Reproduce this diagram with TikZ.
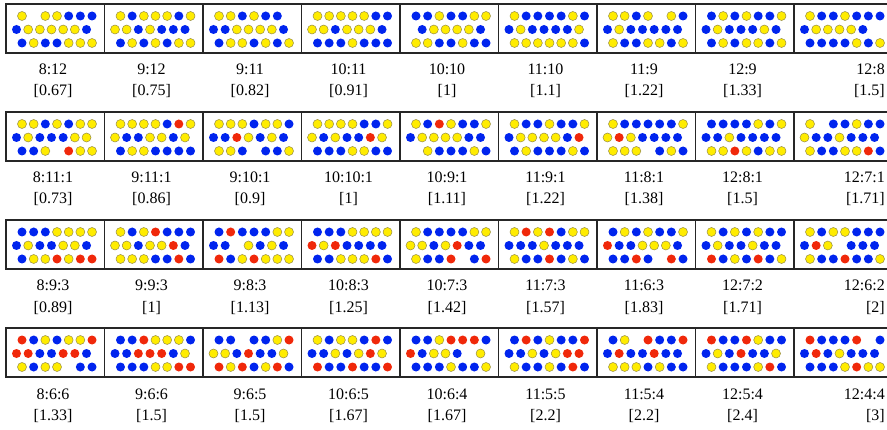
\documentclass[tikz,border=0pt]{standalone}
\usepackage{fontspec}
\setmainfont{Liberation Serif}
\usetikzlibrary{positioning}

\definecolor{dotblue}{RGB}{0,36,238}
\definecolor{dotred}{RGB}{240,40,10}
\definecolor{dotyellow}{RGB}{255,236,0}
\definecolor{dotyelline}{RGB}{150,140,70}

% one box of dots: name, column, row, three rows of slots, ratio, value
\newcommand{\dotpanel}[8]{%
    \pgfmathsetmacro\pl{6+98.5*#2}%
    \pgfmathsetmacro\pt{425-108*#3}%
    \node [panel] (#1) at (\pl+49.25,\pt-24.5) {};
    \foreach \c [count=\k from 0] in {#4} {\path [dot\c] (\pl+16+11.67*\k,\pt-12) circle [radius=4.5pt];}
    \foreach \c [count=\k from 0] in {#5} {\path [dot\c] (\pl+10.5+11.67*\k,\pt-25.5) circle [radius=4.5pt];}
    \foreach \c [count=\k from 0] in {#6} {\path [dot\c] (\pl+16+11.67*\k,\pt-39) circle [radius=4.5pt];}
    \ifnum#2=8
        \node [ratiotext, anchor=base east] (#1a) at (885,\pt-71) {#7};
        \node [ratiotext, anchor=base east] (#1b) at (885,\pt-92) {#8};
    \else
        \node [ratiotext, anchor=base] (#1a) at (\pl+47,\pt-71) {#7};
        \node [ratiotext, anchor=base] (#1b) at (\pl+47,\pt-92) {#8};
    \fi
}

\begin{document}
\begin{tikzpicture}[
    x=1pt,
    y=1pt,
    panel/.style={
        rectangle,
        draw=black!85,
        line width=1.1pt,
        minimum width=98.5pt,
        minimum height=49pt,
        inner sep=0pt
    },
    doty/.style={fill=dotyellow, draw=dotyelline, line width=0.5pt},
    dotb/.style={fill=dotblue},
    dotr/.style={fill=dotred},
    dotn/.style={},
    ratiotext/.style={
        inner sep=0pt,
        font=\fontsize{16}{19}\selectfont
    }
]
    \useasboundingbox (0,0) rectangle (887,429);
    \clip (0,0) rectangle (887,429);

    % --- Row 1: blue:yellow ---
    \dotpanel{p1}{0}{0}{y,n,y,y,b,b,b}{b,y,y,y,y,y,b}{b,y,b,b,y,y,y}{8:12}{[0.67]}
    \dotpanel{p2}{1}{0}{y,b,y,y,y,b,y}{y,y,b,y,b,b,b}{b,y,b,y,b,y,y}{9:12}{[0.75]}
    \dotpanel{p3}{2}{0}{y,y,b,y,b,b,n}{b,b,y,y,y,y,b}{b,y,y,b,y,b,y}{9:11}{[0.82]}
    \dotpanel{p4}{3}{0}{y,y,y,y,y,b,b}{y,y,b,y,y,y,b}{b,b,b,y,b,b,b}{10:11}{[0.91]}
    \dotpanel{p5}{4}{0}{b,b,y,b,b,y,y}{n,b,y,y,y,y,b}{y,y,b,b,y,b,b}{10:10}{[1]}
    \dotpanel{p6}{5}{0}{y,b,b,b,b,y,b}{b,y,b,b,b,b,y}{y,y,y,y,y,y,b}{11:10}{[1.1]}
    \dotpanel{p7}{6}{0}{y,y,b,y,n,y,b}{b,y,b,b,b,b,b}{y,b,b,y,y,b,y}{11:9}{[1.22]}
    \dotpanel{p8}{7}{0}{b,y,b,y,b,b,y}{b,y,b,b,b,y,b}{b,y,b,y,y,b,y}{12:9}{[1.33]}
    \dotpanel{p9}{8}{0}{y,b,b,y,b,b,b}{b,y,y,y,y,b,n}{b,b,b,b,y,b,y}{12:8}{[1.5]}

    % --- Row 2: one red ---
    \dotpanel{p10}{0}{1}{y,y,b,y,b,y,y}{b,y,b,b,b,y,y}{b,b,y,n,r,y,y}{8:11:1}{[0.73]}
    \dotpanel{p11}{1}{1}{y,y,y,y,b,r,y}{y,b,b,y,y,b,y}{b,y,y,b,b,b,b}{9:11:1}{[0.86]}
    \dotpanel{p12}{2}{1}{y,y,y,b,y,y,b}{b,b,r,y,b,y,b}{y,y,b,n,b,b,y}{9:10:1}{[0.9]}
    \dotpanel{p13}{3}{1}{y,y,y,y,b,b,y}{y,b,y,b,b,r,y}{b,b,b,y,y,b,b}{10:10:1}{[1]}
    \dotpanel{p14}{4}{1}{y,b,r,y,b,b,y}{b,y,y,y,y,b,b}{n,y,b,b,b,y,b}{10:9:1}{[1.11]}
    \dotpanel{p15}{5}{1}{y,b,b,y,b,b,y}{b,y,y,y,y,b,r}{b,y,b,b,b,y,b}{11:9:1}{[1.22]}
    \dotpanel{p16}{6}{1}{y,b,b,b,b,b,y}{y,r,y,b,b,b,b}{y,y,y,n,b,y,b}{11:8:1}{[1.38]}
    \dotpanel{p17}{7}{1}{b,b,b,b,y,b,y}{b,b,y,b,b,b,b}{y,y,r,y,b,y,y}{12:8:1}{[1.5]}
    \dotpanel{p18}{8}{1}{y,n,b,b,y,b,b}{y,b,b,y,b,b,b}{y,b,b,y,y,r,b}{12:7:1}{[1.71]}

    % --- Row 3 ---
    \dotpanel{p19}{0}{2}{b,b,b,y,y,y,y}{b,y,b,b,y,y,b}{b,y,y,r,y,r,r}{8:9:3}{[0.89]}
    \dotpanel{p20}{1}{2}{y,b,y,r,b,b,b}{y,y,b,y,y,r,b}{y,y,y,b,b,r,b}{9:9:3}{[1]}
    \dotpanel{p21}{2}{2}{b,r,b,b,b,y,y}{b,b,n,y,b,y,b}{r,b,y,r,y,y,y}{9:8:3}{[1.13]}
    \dotpanel{p22}{3}{2}{b,b,b,y,y,y,y}{r,y,r,b,b,b,b}{b,b,y,y,y,r,b}{10:8:3}{[1.25]}
    \dotpanel{p23}{4}{2}{y,b,b,b,b,y,y}{y,y,b,y,r,b,b}{y,b,b,r,n,b,r}{10:7:3}{[1.42]}
    \dotpanel{p24}{5}{2}{y,r,y,r,b,y,y}{b,b,b,y,b,b,b}{y,b,b,r,b,y,b}{11:7:3}{[1.57]}
    \dotpanel{p25}{6}{2}{b,y,b,y,b,b,y}{r,b,b,y,y,y,b}{b,b,r,b,n,r,b}{11:6:3}{[1.83]}
    \dotpanel{p26}{7}{2}{y,b,y,b,y,b,b}{b,y,b,b,y,b,b}{r,b,y,b,r,b,y}{12:7:2}{[1.71]}
    \dotpanel{p27}{8}{2}{y,b,y,y,b,b,b}{b,r,y,n,b,b,b}{y,b,b,r,b,b,y}{12:6:2}{[2]}

    % --- Row 4 ---
    \dotpanel{p28}{0}{3}{r,b,y,b,y,y,r}{r,r,b,b,r,r,b}{y,b,y,y,n,b,b}{8:6:6}{[1.33]}
    \dotpanel{p29}{1}{3}{b,b,r,y,y,y,b}{b,b,r,r,r,b,y}{b,b,b,y,y,r,r}{9:6:6}{[1.5]}
    \dotpanel{p30}{2}{3}{b,b,n,b,b,y,r}{y,y,b,r,b,b,y}{r,y,r,b,y,r,b}{9:6:5}{[1.5]}
    \dotpanel{p31}{3}{3}{y,b,y,y,b,r,b}{b,b,y,b,y,r,y}{r,b,b,r,b,b,r}{10:6:5}{[1.67]}
    \dotpanel{p32}{4}{3}{b,b,y,r,r,r,b}{r,b,y,y,b,n,y}{b,b,b,y,b,b,y}{10:6:4}{[1.67]}
    \dotpanel{p33}{5}{3}{b,r,b,y,b,b,r}{b,b,y,b,y,r,r}{y,b,b,y,b,r,b}{11:5:5}{[2.2]}
    \dotpanel{p34}{6}{3}{b,y,n,r,b,b,r}{b,r,b,b,r,b,b}{y,y,y,b,y,b,b}{11:5:4}{[2.2]}
    \dotpanel{p35}{7}{3}{r,b,b,r,y,b,b}{b,y,b,r,b,b,y}{y,b,b,b,y,r,b}{12:5:4}{[2.4]}
    \dotpanel{p36}{8}{3}{r,b,b,b,r,n,b}{b,r,b,y,b,b,b}{b,b,b,y,r,y,y}{12:4:4}{[3]}

\end{tikzpicture}
\end{document}
